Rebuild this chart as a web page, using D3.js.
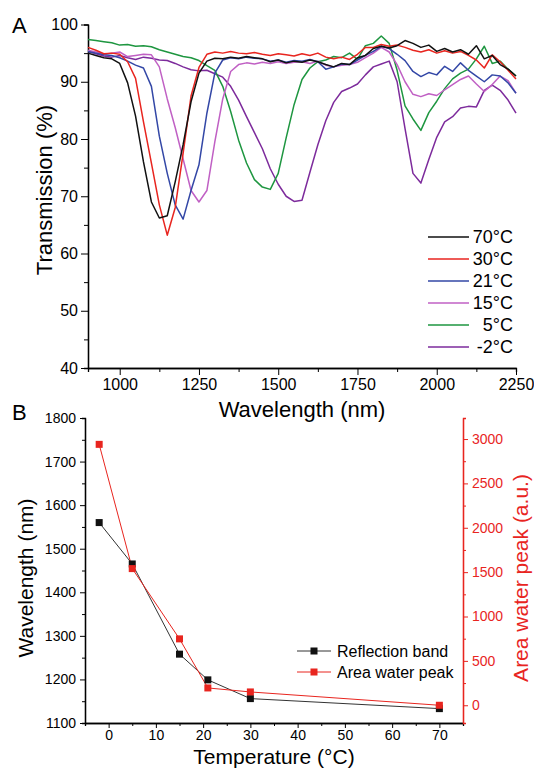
<!DOCTYPE html>
<html>
<head>
<meta charset="utf-8">
<script src="https://cdn.jsdelivr.net/npm/d3@7"></script>
<style>
  body { margin: 0; background: #fff; }
  text { font-family: "Liberation Sans", Arial, sans-serif; }
</style>
</head>
<body>
<div id="chart"></div>
<script>
// ---- panel A data: transmission spectra ----
const wavelengths = [900,925,950,975,1000,1025,1050,1075,1100,1125,1150,1175,1200,1225,1250,1275,1300,1325,1350,1375,1400,1425,1450,1475,1500,1525,1550,1575,1600,1625,1650,1675,1700,1725,1750,1775,1800,1825,1850,1875,1900,1925,1950,1975,2000,2025,2050,2075,2100,2125,2150,2175,2200,2225,2250]
const t70 = [95.0,94.6,94.2,94.0,93.2,89.8,84.0,76.0,69.0,66.2,66.6,72.5,79.0,86.5,91.5,93.6,94.1,94.0,94.3,94.1,94.4,94.2,94.0,93.5,93.8,93.3,93.6,93.4,93.8,93.5,93.0,92.6,93.2,93.0,94.2,94.6,95.8,96.2,95.9,96.3,97.2,96.7,96.0,96.4,95.3,95.8,95.2,95.6,94.8,96.3,94.0,94.6,93.0,92.2,91.0]
const t30 = [96.0,95.5,94.9,95.0,94.8,93.5,90.6,83.0,75.8,68.5,63.2,68.0,77.5,87.5,92.5,94.8,95.2,95.0,95.3,95.0,94.9,95.1,94.8,94.6,94.9,94.7,94.5,94.9,94.6,95.0,94.3,94.0,94.3,93.9,94.8,96.0,96.0,96.5,96.2,96.4,96.0,95.5,95.2,95.6,95.0,95.4,95.0,95.3,94.6,93.8,92.4,94.7,93.5,92.0,90.5]
const t21 = [95.3,95.0,94.7,94.6,94.2,93.6,92.9,92.4,89.2,80.5,74.0,68.5,66.0,71.0,75.5,84.5,91.5,93.8,94.2,94.0,94.3,94.1,94.0,93.6,93.8,93.4,93.7,93.6,93.9,93.5,92.2,92.6,93.1,93.0,93.8,94.6,95.3,96.2,95.8,94.8,93.7,91.8,90.9,91.6,91.2,92.7,91.8,93.3,92.0,91.0,90.0,91.2,91.0,89.8,88.0]
const t15 = [95.5,95.2,94.8,95.0,95.2,94.4,94.6,94.8,94.7,92.6,87.0,82.0,76.5,71.0,69.0,71.0,79.5,87.0,91.8,93.0,93.3,93.1,93.4,93.2,93.5,93.2,93.4,93.5,93.2,93.6,92.9,92.6,92.9,93.0,93.4,94.2,95.0,96.0,95.2,93.0,90.0,87.8,87.4,87.9,87.6,88.6,89.5,90.4,91.0,89.6,88.3,89.5,91.0,90.2,88.0]
const t5 = [97.4,97.2,97.0,96.8,96.4,96.5,96.2,96.3,96.1,95.6,95.2,94.8,94.4,94.2,93.7,92.8,92.0,89.2,84.8,79.8,75.8,72.9,71.6,71.2,74.0,80.2,86.0,90.4,92.4,93.5,93.8,94.4,94.2,95.0,93.9,96.3,96.7,98.0,96.7,92.0,85.8,83.5,81.5,84.6,86.6,88.8,90.5,91.5,92.2,94.0,96.2,93.2,93.6,92.2,91.0]
const tm2 = [95.3,94.9,94.5,94.3,94.6,94.2,93.9,94.3,94.1,93.8,93.7,93.2,92.6,92.1,91.9,92.0,91.4,90.8,89.2,86.8,83.9,81.1,78.3,74.8,72.1,70.0,69.1,69.3,74.2,79.0,83.2,86.4,88.3,88.9,89.6,91.2,92.6,93.1,93.6,90.0,81.8,74.0,72.3,76.4,80.3,83.0,83.9,85.4,85.7,85.6,88.5,89.4,88.5,86.8,84.5]
const spectraLabels = ["70°C","30°C","21°C","15°C","5°C","-2°C"]
const spectraColors = ["#111111","#e8251f","#3347a6","#c060c4","#1e9640","#7d2b9c"]
const spectra = [t70, t30, t21, t15, t5, tm2]

// ---- panel B data ----
const temps = [-2, 5, 15, 21, 30, 70]
const reflectionBand = [1560, 1465, 1258, 1199, 1156, 1133]
const areaWaterPeak = [2940, 1540, 748, 195, 150, 0]

const W = 534, H = 768
const svg = d3.select("#chart").append("svg")
    .attr("width", W)
    .attr("height", H)

const fmt = d3.format("d")

// ================= panel A =================
const xA = d3.scaleLinear().domain([900, 2250]).range([88, 516])
const yA = d3.scaleLinear().domain([40, 100]).range([368, 24.5])

// minor ticks first, then major ticks with labels
svg.append("g")
    .attr("transform", "translate(0,368)")
    .call(d3.axisBottom(xA).tickValues([1125,1375,1625,1875,2125]).tickSize(4).tickFormat(""))
svg.append("g")
    .attr("class", "axA")
    .attr("transform", "translate(0,368)")
    .call(d3.axisBottom(xA).tickValues([1000,1250,1500,1750,2000,2250]).tickFormat(fmt).tickSize(7).tickSizeOuter(0).tickPadding(4))
svg.append("g")
    .attr("transform", "translate(88,0)")
    .call(d3.axisLeft(yA).tickValues([45,55,65,75,85,95]).tickSize(4).tickFormat(""))
svg.append("g")
    .attr("class", "axA")
    .attr("transform", "translate(88,0)")
    .call(d3.axisLeft(yA).tickValues([40,50,60,70,80,90,100]).tickFormat(fmt).tickSize(7).tickSizeOuter(0).tickPadding(3))

svg.selectAll(".axA text").style("font-size", "16px").style("font-family", "Liberation Sans, Arial, sans-serif")

// spectra (draw -2 first so 70 sits on top)
const lineA = d3.line()
    .x((d, i) => xA(wavelengths[i]))
    .y(d => yA(d))

for (let k = spectra.length - 1; k >= 0; k--) {
    svg.append("path")
        .datum(spectra[k])
        .attr("d", lineA)
        .attr("fill", "none")
        .attr("stroke", spectraColors[k])
        .attr("stroke-width", 1.5)
        .attr("stroke-linejoin", "round")
}

// legend A
spectraLabels.forEach((lab, i) => {
    const ly = 237 + i * 22
    svg.append("line")
        .attr("x1", 428).attr("x2", 469)
        .attr("y1", ly).attr("y2", ly)
        .attr("stroke", spectraColors[i])
        .attr("stroke-width", 1.5)
    svg.append("text")
        .attr("x", 513).attr("y", ly + 6)
        .attr("text-anchor", "end")
        .style("font-size", "18px")
        .text(lab)
})

svg.append("text")
    .attr("x", 302).attr("y", 417)
    .attr("text-anchor", "middle")
    .style("font-size", "22px")
    .text("Wavelength (nm)")
svg.append("text")
    .attr("transform", "translate(52,190) rotate(-90)")
    .attr("text-anchor", "middle")
    .style("font-size", "22px")
    .text("Transmission (%)")
svg.append("text")
    .attr("x", 12).attr("y", 33)
    .style("font-size", "22px")
    .text("A")

// ================= panel B =================
const xB = d3.scaleLinear().domain([-5, 75]).range([85, 463])
const yB = d3.scaleLinear().domain([1100, 1800]).range([723, 418])
const yB2 = d3.scaleLinear().domain([-200, 3237]).range([723, 418])
const red = "#e8251f"

svg.append("g")
    .attr("transform", "translate(0,723)")
    .call(d3.axisBottom(xB).tickValues([-5,5,15,25,35,45,55,65,75]).tickSize(3).tickFormat(""))
svg.append("g")
    .attr("class", "axB")
    .attr("transform", "translate(0,723)")
    .call(d3.axisBottom(xB).tickValues([0,10,20,30,40,50,60,70]).tickFormat(fmt).tickSize(5).tickSizeOuter(0).tickPadding(2))
svg.append("g")
    .attr("transform", "translate(85,0)")
    .call(d3.axisLeft(yB).tickValues([1150,1250,1350,1450,1550,1650,1750]).tickSize(3).tickFormat(""))
svg.append("g")
    .attr("class", "axB")
    .attr("transform", "translate(85,0)")
    .call(d3.axisLeft(yB).tickValues([1100,1200,1300,1400,1500,1600,1700,1800]).tickFormat(fmt).tickSize(5).tickSizeOuter(0).tickPadding(4))

const rMinor = svg.append("g")
    .attr("transform", "translate(463,0)")
    .call(d3.axisRight(yB2).tickValues([250,750,1250,1750,2250,2750,3250].filter(v => v <= 3237)).tickSize(3).tickFormat(""))
const rMajor = svg.append("g")
    .attr("class", "axB")
    .attr("transform", "translate(463,0)")
    .call(d3.axisRight(yB2).tickValues([0,500,1000,1500,2000,2500,3000]).tickFormat(fmt).tickSize(5).tickSizeOuter(0).tickPadding(4))
rMinor.selectAll("line,path").attr("stroke", red)
rMajor.selectAll("line,path").attr("stroke", red)
rMajor.selectAll("text").attr("fill", red)

svg.selectAll(".axB text").style("font-size", "14px").style("font-family", "Liberation Sans, Arial, sans-serif")
svg.selectAll("path.domain").attr("stroke-width", 1.3)

// series lines
const lineRef = d3.line().x((d, i) => xB(temps[i])).y(d => yB(d))
const lineArea = d3.line().x((d, i) => xB(temps[i])).y(d => yB2(d))

svg.append("path").datum(reflectionBand)
    .attr("d", lineRef).attr("fill", "none").attr("stroke", "#333").attr("stroke-width", 1)
svg.append("path").datum(areaWaterPeak)
    .attr("d", lineArea).attr("fill", "none").attr("stroke", red).attr("stroke-width", 1)

const sq = 7
svg.selectAll(".mRef").data(reflectionBand).enter().append("rect")
    .attr("x", (d, i) => xB(temps[i]) - sq / 2)
    .attr("y", d => yB(d) - sq / 2)
    .attr("width", sq).attr("height", sq)
    .attr("fill", "#111")
svg.selectAll(".mArea").data(areaWaterPeak).enter().append("rect")
    .attr("x", (d, i) => xB(temps[i]) - sq / 2)
    .attr("y", d => yB2(d) - sq / 2)
    .attr("width", sq).attr("height", sq)
    .attr("fill", red)

// legend B
const legB = [["Reflection band", "#333", "#111"], ["Area water peak", red, red]]
legB.forEach((d, i) => {
    const ly = 651 + i * 21
    svg.append("line").attr("x1", 297).attr("x2", 331).attr("y1", ly).attr("y2", ly)
        .attr("stroke", d[1]).attr("stroke-width", 1)
    svg.append("rect").attr("x", 314 - sq / 2).attr("y", ly - sq / 2)
        .attr("width", sq).attr("height", sq).attr("fill", d[2])
    svg.append("text").attr("x", 337).attr("y", ly + 6)
        .style("font-size", "16px")
        .text(d[0])
})

svg.append("text")
    .attr("x", 274).attr("y", 764)
    .attr("text-anchor", "middle")
    .style("font-size", "21px")
    .text("Temperature (°C)")
svg.append("text")
    .attr("transform", "translate(33,578) rotate(-90)")
    .attr("text-anchor", "middle")
    .style("font-size", "21px")
    .text("Wavelength (nm)")
svg.append("text")
    .attr("transform", "translate(528,578) rotate(-90)")
    .attr("text-anchor", "middle")
    .attr("fill", red)
    .style("font-size", "21px")
    .text("Area water peak (a.u.)")
svg.append("text")
    .attr("x", 12).attr("y", 420)
    .style("font-size", "22px")
    .text("B")
</script>
</body>
</html>
